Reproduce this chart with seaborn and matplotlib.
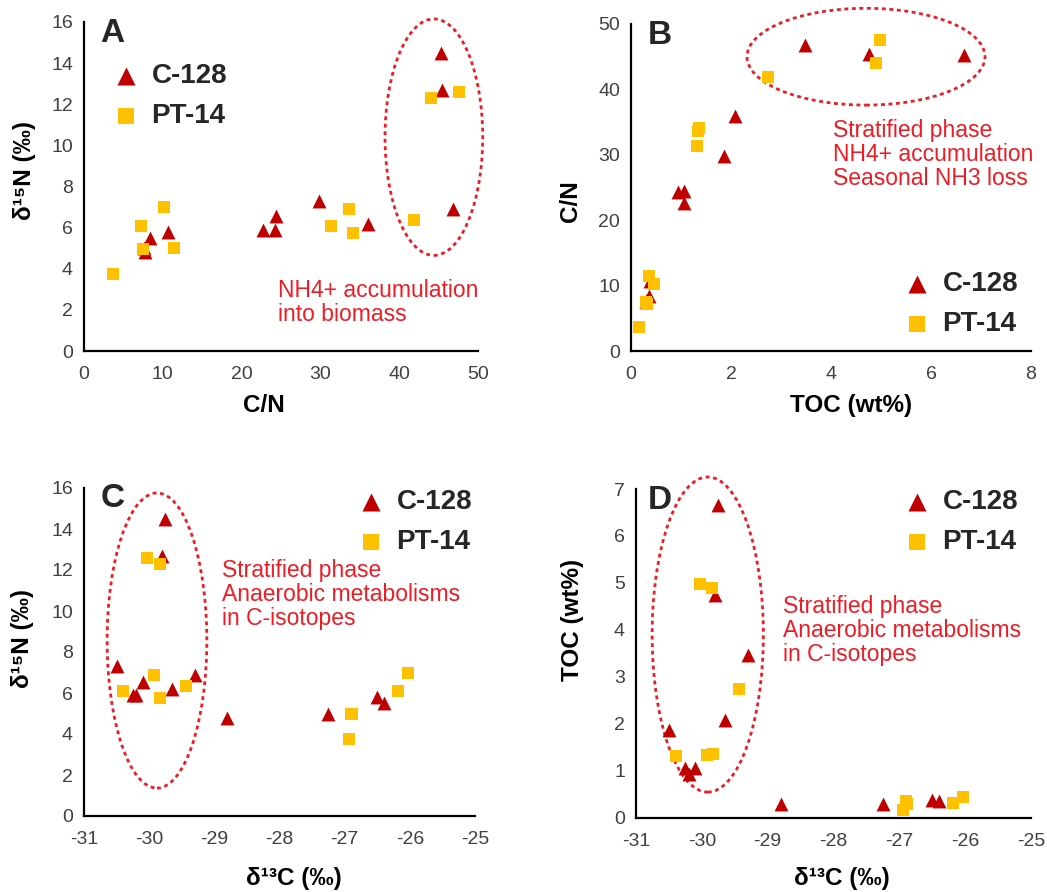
import matplotlib
matplotlib.use("Agg")
import matplotlib.pyplot as plt
from matplotlib.patches import Ellipse
import numpy as np
import pandas as pd
import seaborn as sns

# ---- sample data -------------------------------------------------------
# C-128 core
c128_cn   = [45.3, 45.4, 46.8, 36.0, 29.8, 24.4, 24.3, 22.7, 10.7, 8.4, 7.7, 7.6]
c128_d15n = [14.5, 12.7, 6.9, 6.2, 7.3, 6.55, 5.9, 5.9, 5.8, 5.5, 4.8, 5.0]
c128_toc  = [6.65, 4.75, 3.47, 2.08, 1.86, 1.06, 0.94, 1.05, 0.38, 0.35, 0.30, 0.30]
c128_d13c = [-29.75, -29.8, -29.3, -29.65, -30.5, -30.1, -30.2, -30.25, -26.5, -26.4, -28.8, -27.25]

# PT-14 core
pt14_cn   = [3.7, 7.2, 7.5, 10.2, 11.4, 31.3, 33.6, 34.1, 41.9, 44.0, 47.6]
pt14_d15n = [3.75, 6.1, 4.96, 7.0, 5.0, 6.1, 6.9, 5.75, 6.35, 12.3, 12.6]
pt14_toc  = [0.16, 0.31, 0.30, 0.45, 0.36, 1.31, 1.34, 1.36, 2.74, 4.89, 4.98]
pt14_d13c = [-26.94, -26.18, -26.88, -26.03, -26.90, -30.40, -29.92, -29.83, -29.44, -29.84, -30.03]

series_names = ["C-128", "PT-14"]

# ---- styling -----------------------------------------------------------
sns.set_theme(style="white")
plt.rcParams["font.family"] = ["Liberation Sans", "DejaVu Sans"]
plt.rcParams["axes.unicode_minus"] = False

RED = "#C00000"
GOLD = "#FFC000"
NOTE = "#EE1C25"
TICK = "#404040"

c128 = pd.DataFrame({"cn": c128_cn, "d15n": c128_d15n, "toc": c128_toc,
                     "d13c": c128_d13c, "core": series_names[0]})
pt14 = pd.DataFrame({"cn": pt14_cn, "d15n": pt14_d15n, "toc": pt14_toc,
                     "d13c": pt14_d13c, "core": series_names[1]})

W, H = 1047, 892
fig = plt.figure(figsize=(W / 100, H / 100), dpi=100)


def rect(x0, y_bottom, x1, y_top):
    return [x0 / W, 1 - y_bottom / H, (x1 - x0) / W, (y_bottom - y_top) / H]


def fpos(px, py):
    return px / W, 1 - py / H


def to_axes(ax, px, py):
    """Figure pixel position (from top-left) -> axes fraction."""
    fx, fy = fpos(px, py)
    return ax.transAxes.inverted().transform(fig.transFigure.transform((fx, fy)))


def style_axes(ax, xlim, ylim, xticks, yticks, xlabel, ylabel, xlab_pos, ylab_pos):
    ax.set_xlim(*xlim)
    ax.set_ylim(*ylim)
    ax.set_xticks(xticks)
    ax.set_yticks(yticks)
    for s in ("top", "right"):
        ax.spines[s].set_visible(False)
    for s in ("left", "bottom"):
        ax.spines[s].set_color("black")
        ax.spines[s].set_linewidth(1.6)
    ax.tick_params(axis="both", length=0, labelsize=14, colors=TICK)
    ax.tick_params(axis="y", pad=8)
    ax.tick_params(axis="x", pad=11)
    ax.set_xlabel(xlabel, fontsize=17.5, fontweight="bold", color="black")
    ax.set_ylabel(ylabel, fontsize=17.5, fontweight="bold", color="black")
    ax.xaxis.label.set_va("center")
    ax.yaxis.label.set_va("center")
    ax.xaxis.set_label_coords(*to_axes(ax, *xlab_pos))
    ax.yaxis.set_label_coords(*to_axes(ax, *ylab_pos))
    ax.grid(False)


def scatter_pair(ax, x, y):
    sns.scatterplot(data=c128, x=x, y=y, ax=ax, marker="^", s=100, color=RED,
                    linewidth=0, label=series_names[0], zorder=3)
    sns.scatterplot(data=pt14, x=x, y=y, ax=ax, marker="s", s=72, color=GOLD,
                    linewidth=0, label=series_names[1], zorder=4)


def add_legend(ax, px, py):
    ax.legend(loc="upper left", bbox_to_anchor=fpos(px, py),
              bbox_transform=fig.transFigure, frameon=False,
              prop={"size": 20, "weight": "bold"}, borderpad=0,
              borderaxespad=0, handlelength=1.0, handletextpad=0.42,
              labelspacing=0.5, markerscale=1.3)


def add_ellipse(ax, cx, cy, w, h):
    ax.add_patch(Ellipse((cx, cy), w, h, fill=False, edgecolor=NOTE,
                         linewidth=2.0, linestyle=(0, (1.4, 1.3)),
                         clip_on=False, zorder=2))


def note(px, py, text):
    x, y = fpos(px, py)
    fig.text(x, y, text, color=NOTE, fontsize=16.5, ha="left", va="top",
             linespacing=1.05)


def letter(px, py, text):
    x, y = fpos(px, py)
    fig.text(x, y, text, fontsize=24, fontweight="bold", ha="left", va="top")


d15n_label = "δ\u00b9\u2075N (‰)"
d13c_label = "δ\u00b9\u00b3C (‰)"

# ---- panel A: d15N vs C/N ---------------------------------------------
axA = fig.add_axes(rect(84, 351, 478, 22))
scatter_pair(axA, "cn", "d15n")
style_axes(axA, (0, 50), (0, 16), range(0, 51, 10), range(0, 17, 2),
           "C/N", d15n_label, (264, 405), (25, 170))
add_ellipse(axA, 44.4, 10.4, 12.4, 11.5)
add_legend(axA, 112, 63)
note(278, 279, "NH4+ accumulation\ninto biomass")
letter(100, 18, "A")

# ---- panel B: C/N vs TOC -----------------------------------------------
axB = fig.add_axes(rect(631, 351, 1031, 24))
scatter_pair(axB, "toc", "cn")
style_axes(axB, (0, 8), (0, 50), range(0, 9, 2), range(0, 51, 10),
           "TOC (wt%)", "C/N", (851, 405), (571, 201))
add_ellipse(axB, 4.7, 45.0, 4.76, 14.8)
add_legend(axB, 903, 271)
note(833, 119, "Stratified phase\nNH4+ accumulation\nSeasonal NH3 loss")
letter(648, 20, "B")

# ---- panel C: d15N vs d13C ---------------------------------------------
axC = fig.add_axes(rect(84, 816, 475, 488))
scatter_pair(axC, "d13c", "d15n")
style_axes(axC, (-31, -25), (0, 16), range(-31, -24), range(0, 17, 2),
           d13c_label, d15n_label, (294, 879), (23, 638))
add_ellipse(axC, -29.88, 8.56, 1.53, 14.4)
add_legend(axC, 357, 489)
note(222, 559, "Stratified phase\nAnaerobic metabolisms\nin C-isotopes")
letter(101, 483, "C")

# ---- panel D: TOC vs d13C ----------------------------------------------
axD = fig.add_axes(rect(636, 817.7, 1031, 489))
scatter_pair(axD, "d13c", "toc")
style_axes(axD, (-31, -25), (0, 7), range(-31, -24), range(0, 8),
           d13c_label, "TOC (wt%)", (842, 879), (572, 620))
add_ellipse(axD, -29.91, 3.90, 1.69, 6.71)
add_legend(axD, 903, 489)
note(783, 595, "Stratified phase\nAnaerobic metabolisms\nin C-isotopes")
letter(648, 485, "D")

fig.savefig("out.png", dpi=100, facecolor="white")
